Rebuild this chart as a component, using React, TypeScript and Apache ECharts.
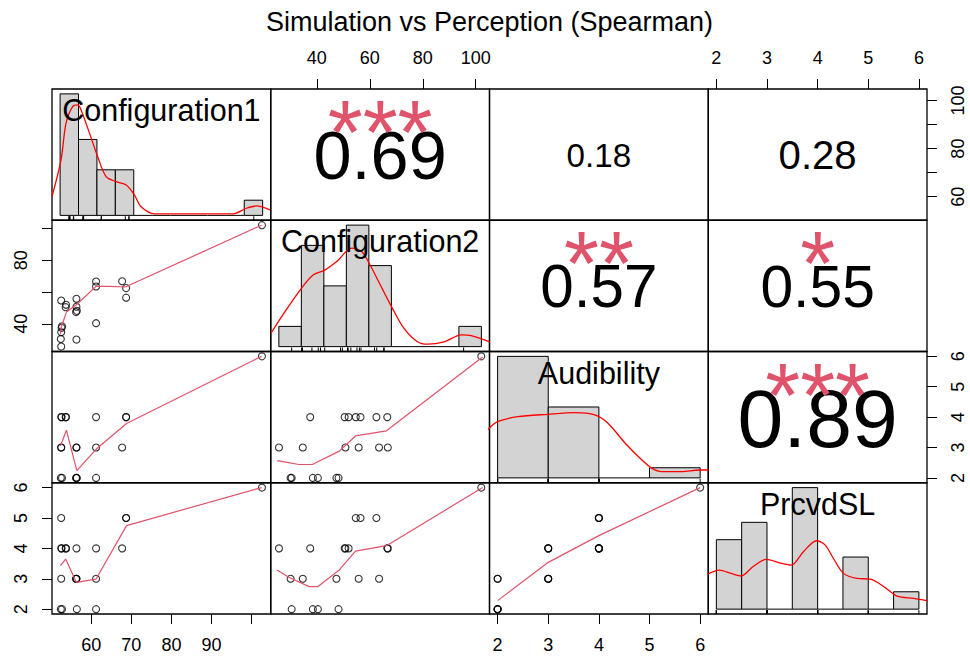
import React, { useEffect, useRef } from "react";
import * as echarts from "echarts";

// ---------- DATA ----------
const chartTitle = "Simulation vs Perception (Spearman)";
const varNames = ["Configuration1", "Configuration2", "Audibility", "PrcvdSL"];

const config1 = [52.5, 52.5, 52.6, 52.4, 52.7, 52.5, 53.6, 53.7, 56.3, 56.3, 56.2, 56.3, 56.4, 61.2, 61.2, 61.2, 67.7, 68.7, 68.7, 102.6];
const config2 = [25.7, 34.7, 37.5, 30.5, 38.5, 54.7, 50.5, 52.0, 55.8, 50.8, 47.4, 30.1, 48.2, 66.6, 63.5, 40.4, 66.8, 62.5, 56.5, 102.1];
const audibility = [3, 3, 4, 2, 2, 4, 4, 4, 3, 3, 2, 2, 2, 4, 3, 2, 3, 4, 4, 6];
const prcvdSL = [4, 3, 4, 2, 2, 5, 4, 4, 3, 4, 3, 3, 2, 4, 3, 2, 4, 5, 5, 6];

// scatter axis ranges (R usr, 4% padding)
const scatterRanges = [
  [50.2, 104.8],
  [22.6, 105.2],
  [1.84, 6.16],
  [1.84, 6.16],
];

// histogram breaks and counts
const histBreaks = [
  [50, 55, 60, 65, 70, 75, 80, 85, 90, 95, 100, 105],
  [20, 30, 40, 50, 60, 70, 80, 90, 100, 110],
  [2, 3, 4, 5, 6],
  [2, 2.5, 3, 3.5, 4, 4.5, 5, 5.5, 6],
];
const histCounts = [
  [8, 5, 3, 3, 0, 0, 0, 0, 0, 0, 1],
  [1, 5, 3, 6, 4, 0, 0, 0, 1],
  [12, 7, 0, 1],
  [4, 5, 0, 7, 0, 3, 0, 1],
];

// kernel density curves (x, density)
const densityC1 = [[47.8, 0.0123], [50.25, 0.0365], [51.6, 0.0606], [53.4, 0.0716], [54.8, 0.0727], [55.7, 0.0694], [58.0, 0.054], [60.2, 0.0387], [62.5, 0.0255], [65.2, 0.0222], [67.95, 0.02], [70.2, 0.0134], [72.0, 0.0057], [75.7, 0.001], [97.0, 0.001], [100.6, 0.0047], [103.35, 0.0062], [107.0, 0.0036]];
const densityC2 = [[16.5, 0.0033], [21.7, 0.0078], [30.0, 0.0144], [35.2, 0.0177], [40.4, 0.0189], [45.7, 0.021], [52.4, 0.0243], [56.9, 0.0234], [60.6, 0.0201], [65.1, 0.0152], [70.4, 0.0095], [75.6, 0.0045], [81.6, 0.0012], [86.1, 0.0006], [93.5, 0.0012], [101.0, 0.0029], [105.5, 0.0027], [113.7, 0.0012]];
const densityA = [[1.8, 0.237], [2.0, 0.278], [2.4, 0.302], [2.99, 0.314], [3.52, 0.322], [3.92, 0.311], [4.18, 0.27], [4.52, 0.171], [4.85, 0.088], [5.05, 0.047], [5.24, 0.031], [5.64, 0.031], [5.98, 0.039], [6.17, 0.039]];
const densityP = [[1.83, 0.202], [2.06, 0.225], [2.29, 0.206], [2.49, 0.191], [2.72, 0.244], [2.99, 0.287], [3.25, 0.267], [3.48, 0.254], [3.72, 0.331], [3.98, 0.394], [4.15, 0.369], [4.31, 0.293], [4.51, 0.206], [4.78, 0.177], [5.04, 0.173], [5.31, 0.129], [5.57, 0.075], [5.9, 0.062], [6.17, 0.048]];

// lowess smoothers in lower panels (x var, y var)
const smoothC2vsC1 = [[52.3, 33.7], [52.5, 37.9], [53.8, 47.4], [56.3, 52.0], [61.2, 63.6], [64.6, 63.6], [68.5, 63.2], [102.5, 102.1]];
const smoothAvsC1 = [[52.3, 3.05], [53.8, 3.57], [56.4, 2.24], [61.2, 2.94], [68.8, 3.79], [102.5, 6.0]];
const smoothPvsC1 = [[52.3, 3.43], [53.6, 3.65], [56.3, 2.88], [61.2, 2.99], [68.8, 4.75], [102.5, 6.0]];
const smoothAvsC2 = [[25.0, 2.57], [28.2, 2.52], [33.2, 2.44], [38.3, 2.44], [48.5, 2.88], [54.6, 3.38], [66.3, 3.55], [102.6, 5.98]];
const smoothPvsC2 = [[25.0, 3.29], [29.4, 3.05], [37.1, 2.74], [40.3, 2.74], [48.5, 3.29], [54.6, 3.91], [66.3, 4.09], [102.6, 6.0]];
const smoothPvsA = [[2, 2.28], [3, 3.54], [4, 4.42], [6, 6.0]];

// correlation panels: row, col, coefficient text, significance
const corrRows = [0, 0, 0, 1, 1, 2];
const corrCols = [1, 2, 3, 2, 3, 3];
const corrValues = ["0.69", "0.18", "0.28", "0.57", "0.55", "0.89"];
const corrStars = ["***", "", "", "**", "*", "***"];

// tick marks and labels
const c1Ticks = [60, 70, 80, 90, 100];
const c1BottomLabels = [60, 70, 80, 90];
const c1RightLabels = [60, 80, 100];
const c2Ticks = [40, 60, 80, 100];
const c2TopLabels = [40, 60, 80, 100];
const c2LeftLabels = [40, 80];
const scaleTicks = [2, 3, 4, 5, 6];

// ---------- LAYOUT ----------
const L = 52;
const T = 89;
const W = 218.75;
const H = 131.25;
const FONT = "'Liberation Sans', Arial, Helvetica, sans-serif";

const variables = [config1, config2, audibility, prcvdSL];
const densities = [densityC1, densityC2, densityA, densityP];
const smoothers: Record<string, number[][]> = {
  "1-0": smoothC2vsC1,
  "2-0": smoothAvsC1,
  "3-0": smoothPvsC1,
  "2-1": smoothAvsC2,
  "3-1": smoothPvsC2,
  "3-2": smoothPvsA,
};

const axisCommon = {
  type: "value",
  axisLine: { show: false, onZero: false },
  splitLine: { show: false },
};

function tickAxis(extra: any, ticks: number[] | null, labels: number[] | null, rotate: number) {
  return {
    ...axisCommon,
    ...extra,
    axisTick: ticks
      ? { show: true, inside: false, length: 10, customValues: ticks, lineStyle: { color: "#000", width: 1 } }
      : { show: false },
    axisLabel: labels
      ? {
          show: true,
          customValues: labels,
          margin: 22,
          rotate: rotate,
          color: "#000",
          fontSize: 18,
          fontFamily: FONT,
        }
      : { show: false },
  };
}

function buildOption() {
  const grids: any[] = [];
  const xAxes: any[] = [];
  const yAxes: any[] = [];
  const series: any[] = [];
  const graphics: any[] = [];

  for (let r = 0; r < 4; r++) {
    for (let c = 0; c < 4; c++) {
      const g = r * 4 + c;
      grids.push({
        left: L + c * W,
        top: T + r * H,
        width: W,
        height: H,
        show: true,
        borderColor: "#000",
        borderWidth: 1.3,
        backgroundColor: "transparent",
        containLabel: false,
        outerBoundsMode: "none",
      });

      if (r === c) {
        const br = histBreaks[c];
        const b0 = br[0];
        const bn = br[br.length - 1];
        const pad = 0.04 * (bn - b0);
        const n = variables[c].length;
        const bins = histCounts[c].map((cnt, i) => [br[i], br[i + 1], cnt / (n * (br[i + 1] - br[i]))]);
        const maxD = Math.max(...bins.map((b) => b[2]));
        const yMin = -0.04 * maxD;
        xAxes.push({ ...axisCommon, gridIndex: g, min: b0 - pad, max: bn + pad, show: false });
        yAxes.push({ ...axisCommon, gridIndex: g, min: yMin, max: maxD * 1.04, show: false });

        series.push({
          type: "custom",
          xAxisIndex: g,
          yAxisIndex: g,
          silent: true,
          data: bins,
          encode: { x: [0, 1], y: 2 },
          renderItem: (params: any, api: any) => {
            const x0 = api.value(0);
            const x1 = api.value(1);
            const h = api.value(2);
            const p0 = api.coord([x0, 0]);
            const p1 = api.coord([x1, h]);
            if (h <= 0) {
              return {
                type: "line",
                shape: { x1: p0[0], y1: p0[1], x2: p1[0], y2: p0[1] },
                style: { stroke: "#000", lineWidth: 1 },
              };
            }
            return {
              type: "rect",
              shape: { x: p0[0], y: p1[1], width: p1[0] - p0[0], height: p0[1] - p1[1] },
              style: { fill: "#D3D3D3", stroke: "#000", lineWidth: 1 },
            };
          },
        });
        series.push({
          type: "line",
          xAxisIndex: g,
          yAxisIndex: g,
          silent: true,
          data: densities[c],
          showSymbol: false,
          smooth: 0.3,
          clip: true,
          lineStyle: { color: "#FF0000", width: 1.3 },
        });
        series.push({
          type: "custom",
          xAxisIndex: g,
          yAxisIndex: g,
          silent: true,
          data: variables[c].map((v) => [v]),
          encode: { x: 0 },
          renderItem: (params: any, api: any) => {
            const p = api.coord([api.value(0), yMin]);
            return {
              type: "line",
              shape: { x1: p[0], y1: p[1], x2: p[0], y2: p[1] - 4 },
              style: { stroke: "#000", lineWidth: 1 },
            };
          },
        });
        graphics.push({
          type: "text",
          x: L + c * W + W / 2,
          y: T + r * H + 21,
          z: 100,
          style: {
            text: varNames[c],
            fontSize: 30.5,
            fontFamily: FONT,
            fill: "#000",
            align: "center",
            verticalAlign: "middle",
          },
        });
        continue;
      }

      // x axis (column variable)
      const xExtra: any = { gridIndex: g, min: scatterRanges[c][0], max: scatterRanges[c][1] };
      let xAxis: any;
      if (r === 0 && c === 1) xAxis = tickAxis({ ...xExtra, position: "top" }, c2Ticks, c2TopLabels, 0);
      else if (r === 0 && c === 3) xAxis = tickAxis({ ...xExtra, position: "top" }, scaleTicks, scaleTicks, 0);
      else if (r === 3 && c === 0) xAxis = tickAxis({ ...xExtra, position: "bottom" }, c1Ticks, c1BottomLabels, 0);
      else if (r === 3 && c === 2) xAxis = tickAxis({ ...xExtra, position: "bottom" }, scaleTicks, scaleTicks, 0);
      else xAxis = tickAxis(xExtra, null, null, 0);
      xAxes.push(xAxis);

      // y axis (row variable), labels parallel to the axis
      const yExtra: any = { gridIndex: g, min: scatterRanges[r][0], max: scatterRanges[r][1] };
      let yAxis: any;
      if (r === 1 && c === 0) yAxis = tickAxis({ ...yExtra, position: "left" }, c2Ticks, c2LeftLabels, 90);
      else if (r === 3 && c === 0) yAxis = tickAxis({ ...yExtra, position: "left" }, scaleTicks, scaleTicks, 90);
      else if (r === 0 && c === 3) yAxis = tickAxis({ ...yExtra, position: "right" }, c1Ticks, c1RightLabels, 90);
      else if (r === 2 && c === 3) yAxis = tickAxis({ ...yExtra, position: "right" }, scaleTicks, scaleTicks, 90);
      else yAxis = tickAxis(yExtra, null, null, 0);
      yAxes.push(yAxis);

      if (r > c) {
        const xs = variables[c];
        const ys = variables[r];
        series.push({
          type: "scatter",
          xAxisIndex: g,
          yAxisIndex: g,
          silent: true,
          data: xs.map((v, i) => [v, ys[i]]),
          symbol: "circle",
          symbolSize: 7,
          itemStyle: { color: "rgba(0,0,0,0)", borderColor: "#000", borderWidth: 1.1 },
        });
        series.push({
          type: "line",
          xAxisIndex: g,
          yAxisIndex: g,
          silent: true,
          data: smoothers[`${r}-${c}`],
          showSymbol: false,
          lineStyle: { color: "#DF536B", width: 1.2 },
        });
      }
    }
  }

  // correlation texts
  corrValues.forEach((txt, k) => {
    const r = corrRows[k];
    const c = corrCols[k];
    const cx = L + c * W + W / 2;
    const top = T + r * H;
    const rv = Math.abs(parseFloat(txt));
    const baseFs = (0.8 * W) / 1.946;
    const fs = (baseFs * (rv + 0.3)) / 1.3;
    graphics.push({
      type: "text",
      x: cx,
      y: top + H / 2 + 1,
      z: 100,
      style: { text: txt, fontSize: fs, fontFamily: FONT, fill: "#000", align: "center", verticalAlign: "middle" },
    });
    if (corrStars[k]) {
      graphics.push({
        type: "text",
        x: cx,
        y: top + 44,
        z: 101,
        style: { text: corrStars[k], fontSize: baseFs, fontFamily: FONT, fill: "#DF536B", align: "center", verticalAlign: "middle" },
      });
    }
  });

  graphics.push({
    type: "text",
    x: L + 2 * W,
    y: 22,
    style: { text: chartTitle, fontSize: 27, fontFamily: FONT, fill: "#000", align: "center", verticalAlign: "middle" },
  });

  return {
    animation: false,
    backgroundColor: "#fff",
    grid: grids,
    xAxis: xAxes,
    yAxis: yAxes,
    series,
    graphic: graphics,
  };
}

export default function App() {
  const ref = useRef<HTMLDivElement>(null);
  useEffect(() => {
    if (!ref.current) return;
    const chart = echarts.init(ref.current, undefined, { renderer: "svg" });
    chart.setOption(buildOption() as any);
    return () => chart.dispose();
  }, []);
  return (
    <div
      ref={ref}
      style={{ position: "absolute", left: 0, top: 0, width: 970, height: 659, background: "#fff" }}
    />
  );
}
